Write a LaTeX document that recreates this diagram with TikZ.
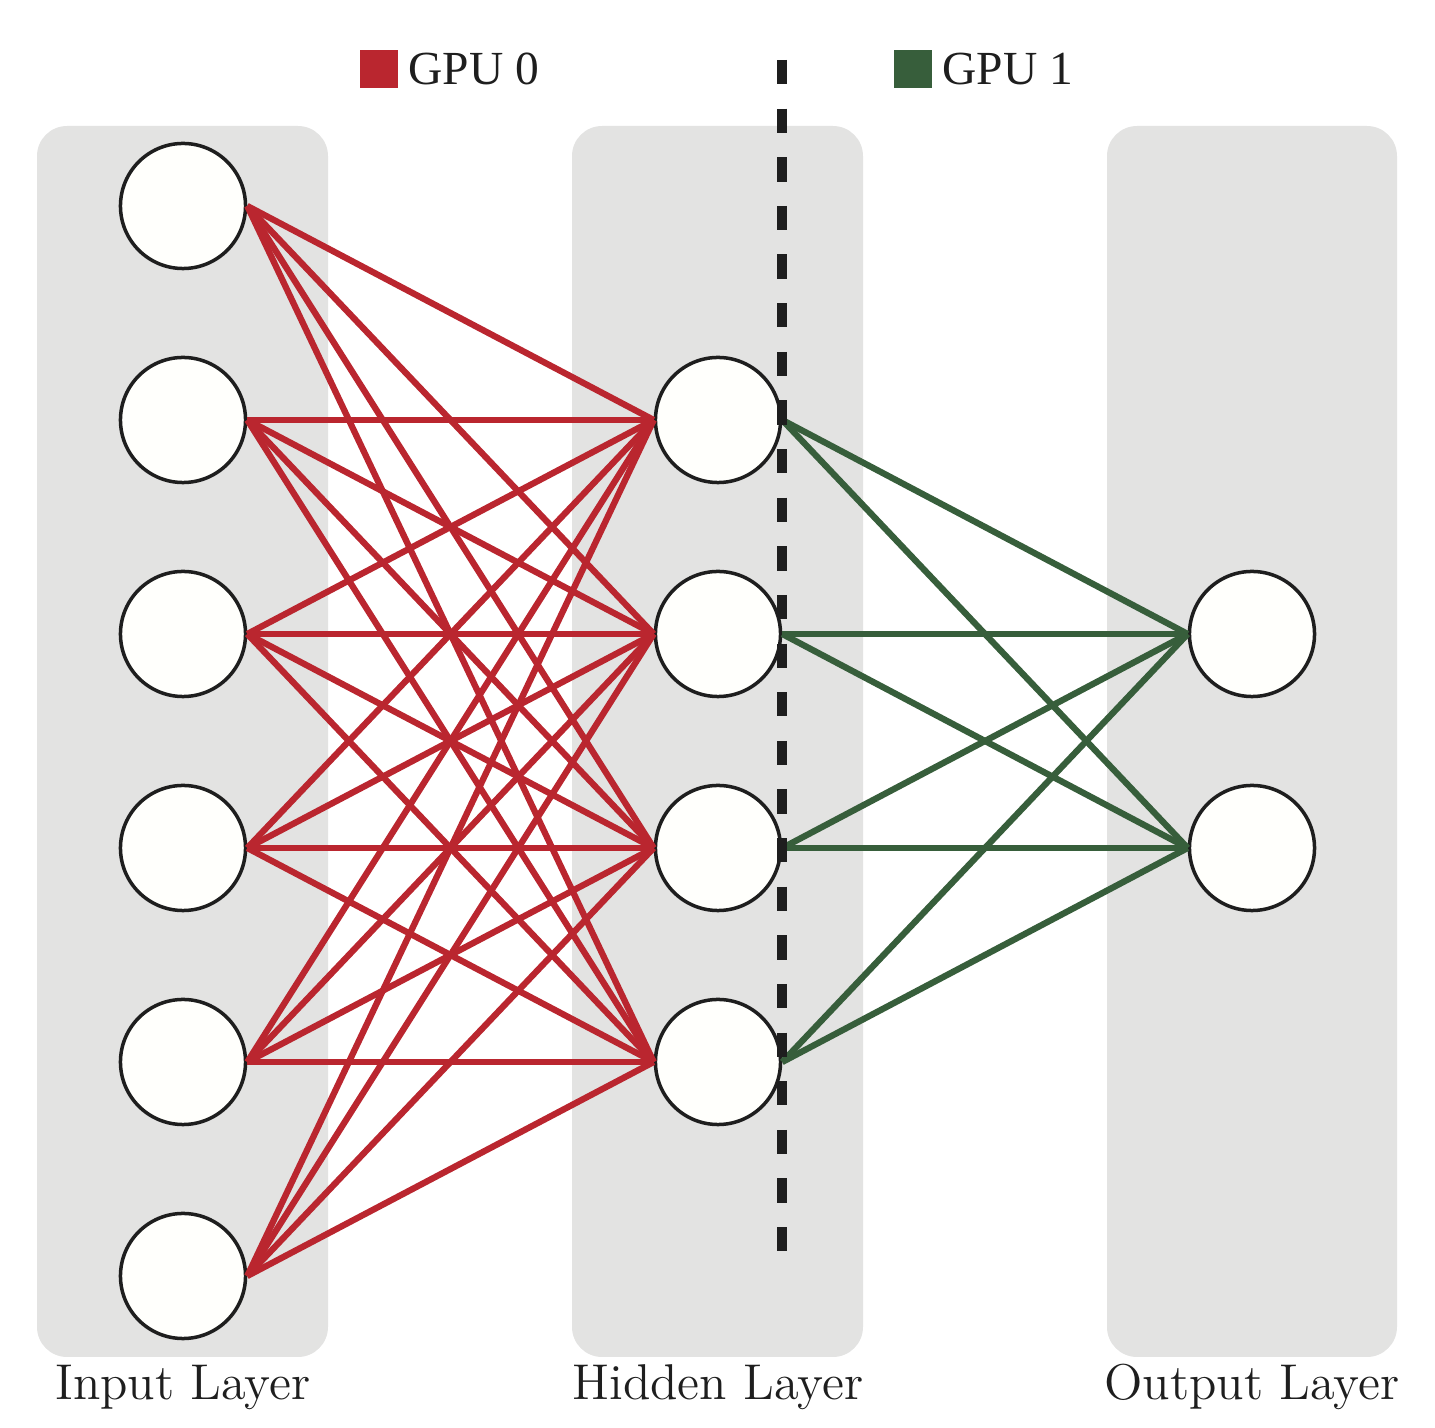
\documentclass[tikz,border=0pt]{standalone}
\usepackage{fontspec}
\newfontfamily\legendfont{Liberation Serif}
\usetikzlibrary{positioning}
\definecolor{gpured}{HTML}{BA262F}
\definecolor{gpugreen}{HTML}{375E3B}
\definecolor{layerbg}{HTML}{E3E3E2}
\definecolor{nodefill}{HTML}{FFFFFC}
\definecolor{ink}{HTML}{1E1E1E}

\begin{document}
\begin{tikzpicture}[x=0.01cm, y=-0.01cm,
  neuron/.style={circle, draw=ink, line width=0.035cm, fill=nodefill, minimum size=1.25cm, inner sep=0pt},
  layer/.style={fill=layerbg, rounded corners=0.3cm},
  link0/.style={draw=gpured, line width=0.063cm},
  link1/.style={draw=gpugreen, line width=0.063cm},
  split/.style={draw=ink, line width=0.1cm, dash pattern=on 0.243cm off 0.243cm},
  swatch/.style={minimum size=0.38cm, inner sep=0pt},
  legend/.style={font=\legendfont\fontsize{13.5}{16}\selectfont, text=ink, anchor=base west, inner sep=0pt},
  caption/.style={font=\fontsize{14.3}{17}\selectfont, text=ink, anchor=base, inner sep=0pt},
]
\useasboundingbox (0,0) rectangle (1435,1428);

% layer backgrounds
\fill[layer] (37,126) rectangle (328,1357);
\fill[layer] (572,126) rectangle (863,1357);
\fill[layer] (1107,126) rectangle (1397,1357);

% neurons
\foreach \i/\y in {1/206,2/420,3/634,4/848,5/1062,6/1276}
  \node[neuron] (in\i) at (183,\y) {};
\foreach \i/\y in {1/420,2/634,3/848,4/1062}
  \node[neuron] (hid\i) at (718,\y) {};
\foreach \i/\y in {1/634,2/848}
  \node[neuron] (out\i) at (1252,\y) {};

% connections
\foreach \i in {1,...,6}
  \foreach \j in {1,...,4}
    \draw[link0] (in\i.east) -- (hid\j.west);
\foreach \j in {1,...,4}
  \foreach \k in {1,2}
    \draw[link1] (hid\j.east) -- (out\k.west);

% split between the two GPUs
\coordinate (cutTop) at (782,60);
\coordinate (cutBot) at (782,1251);
\draw[split] (cutTop) -- (cutBot);

% legend
\node[swatch, fill=gpured] (sw0) at (379,69) {};
\node[legend] (gpu0) at (408,85) {GPU 0};
\node[swatch, fill=gpugreen] (sw1) at (913,69) {};
\node[legend] (gpu1) at (942,85) {GPU 1};

% captions
\node[caption] (capIn) at (183,1400) {Input Layer};
\node[caption] (capHid) at (718,1400) {Hidden Layer};
\node[caption] (capOut) at (1252,1400) {Output Layer};
\end{tikzpicture}
\end{document}
